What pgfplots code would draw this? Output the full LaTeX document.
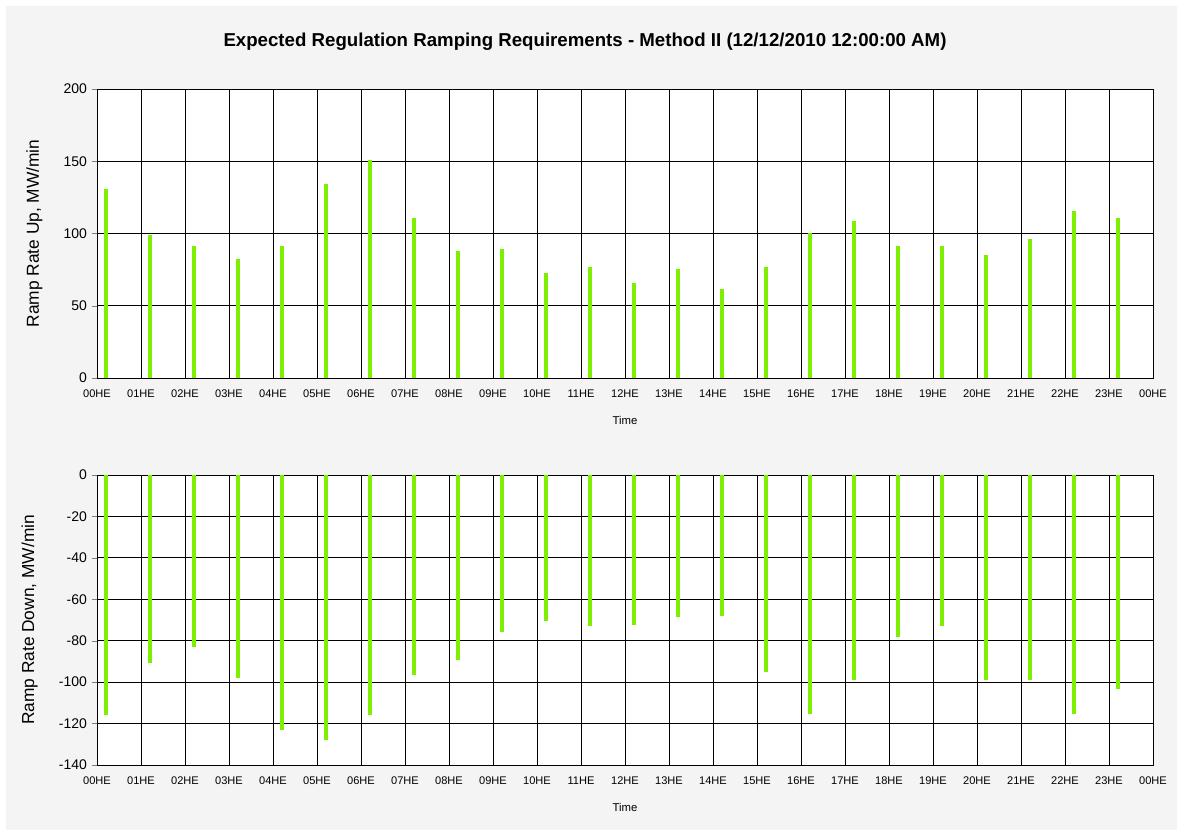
\documentclass[border=0pt]{standalone}
\usepackage{pgfplots}
\usepackage{pgfplotstable}
\pgfplotsset{compat=1.18}
\usepackage{fontspec}
\setmainfont{Liberation Sans}
\definecolor{panel}{HTML}{F4F4F4}
\definecolor{barg}{HTML}{7CF000}

% hourly ramp requirements, bars drawn just after each hour
\pgfplotstableread{
h up down
0 131 -116
1 99 -91
2 91 -83
3 82 -98
4 91 -123
5 134 -128
6 151 -116
7 111 -96.5
8 88 -89.5
9 89 -76
10 73 -70.5
11 77 -73
12 66 -72.5
13 75.5 -68.5
14 61.5 -68
15 77 -95
16 100 -115.5
17 108.5 -99
18 91 -78
19 91 -73
20 85 -99
21 96 -99
22 115.5 -115.5
23 111 -103.5
}\ramps

\pgfplotsset{
  rampaxis/.style={
    scale only axis,
    width=792pt,
    xmin=0, xmax=24,
    xtick={0,...,24},
    xticklabels={00HE,01HE,02HE,03HE,04HE,05HE,06HE,07HE,08HE,09HE,10HE,11HE,12HE,13HE,14HE,15HE,16HE,17HE,18HE,19HE,20HE,21HE,22HE,23HE,00HE},
    x tick label style={font=\fontsize{8.3}{9}\selectfont, text height=6pt, text depth=0pt, yshift=-5pt},
    y tick label style={font=\fontsize{10.5}{11}\selectfont},
    /pgf/number format/assume math mode=true,
    xmajorgrids, ymajorgrids,
    grid style={black, line width=0.6pt},
    axis line style={black, line width=0.6pt},
    major x tick style={draw=none},
    extra x ticks={0,4,8,12,16,20,24},
    extra x tick labels={},
    extra x tick style={grid=none, major tick style={draw=black, line width=0.6pt}, major tick length=6pt, tick align=outside},
    ytick align=outside,
    major tick length=4pt,
    tick pos=left,
    axis background/.style={fill=white},
    xlabel={Time},
    xlabel style={font=\fontsize{8.5}{9}\selectfont, yshift=-1pt},
    ylabel style={font=\fontsize{13}{14}\selectfont, yshift=9pt},
    clip=true,
  },
}

\begin{document}
\begin{tikzpicture}
\fill[white] (0pt,0pt) rectangle (882.75pt,622.5pt);
\fill[panel] (4.5pt,0pt) rectangle (882.75pt,618pt);
\node[font=\bfseries\fontsize{14}{16}\selectfont] at (438.75pt,591pt) {Expected Regulation Ramping Requirements - Method II (12/12/2010 12:00:00 AM)};

\begin{axis}[rampaxis,
  at={(72.75pt,339pt)}, anchor=south west,
  height=216.75pt,
  ymin=0, ymax=200, ytick={0,50,100,150,200},
  ylabel={Ramp Rate Up, MW/min},
]
\addplot[ycomb, draw=barg, line width=2.6pt, mark=none] table[x expr=\thisrow{h}+0.2, y=up] {\ramps};
\end{axis}

\begin{axis}[rampaxis,
  at={(72.75pt,48.75pt)}, anchor=south west,
  height=217.5pt,
  ymin=-140, ymax=0, ytick={-140,-120,...,0},
  ylabel={Ramp Rate Down, MW/min},
]
\addplot[ycomb, draw=barg, line width=2.6pt, mark=none] table[x expr=\thisrow{h}+0.2, y=down] {\ramps};
\end{axis}
\end{tikzpicture}
\end{document}
